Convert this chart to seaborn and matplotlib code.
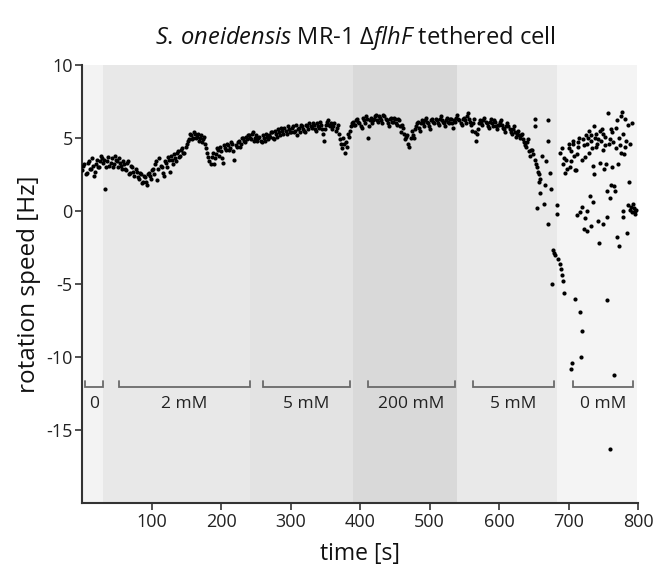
import numpy as np
import pandas as pd
import matplotlib
matplotlib.use("Agg")
import matplotlib.pyplot as plt
import seaborn as sns

# ---------------- data ----------------
# regular part of the trace, samples every 3 s (two interleaved sets, offset 1.5 s)
trace_time_a = np.arange(0, 660, 3)
trace_speed_a = [
    2.8, 3.2, 2.6, 3.4, 2.9, 3.1, 2.7, 3.5, 3.0, 3.8,
    3.3, 1.5, 3.4, 3.1, 3.6, 3.2, 3.5, 3.0, 3.3, 2.9,
    3.2, 2.8, 3.4, 2.6, 3.0, 2.4, 2.7, 2.2, 2.5, 2.0,
    2.3, 1.8, 2.6, 2.2, 2.9, 3.2, 2.1, 3.6, 3.0, 2.4,
    3.3, 3.7, 2.7, 3.5, 3.9, 3.4, 4.1, 3.8, 4.3, 4.0,
    4.6, 4.9, 5.2, 5.0, 5.3, 5.1, 4.8, 5.2, 4.9, 4.6,
    4.0, 3.4, 3.7, 3.2, 3.9, 4.2, 4.4, 3.6, 4.5, 4.2,
    4.5, 4.3, 4.6, 3.5, 4.4, 4.8, 4.6, 5.0, 4.7, 4.9,
    5.2, 4.9, 5.4, 5.0, 4.8, 5.1, 4.7, 5.0, 5.3, 4.9,
    5.1, 5.4, 4.9, 5.3, 5.6, 5.2, 5.5, 5.7, 5.3, 5.6,
    5.4, 5.8, 5.5, 5.2, 5.7, 5.9, 5.6, 5.4, 5.8, 6.0,
    5.7, 5.9, 5.5, 5.8, 6.1, 5.6, 4.8, 5.9, 6.2, 5.8,
    5.6, 6.0, 5.7, 5.3, 4.6, 5.0, 4.0, 4.4, 5.1, 5.8,
    6.1, 5.9, 6.3, 6.0, 5.7, 6.2, 6.5, 5.0, 6.2, 6.0,
    6.3, 6.6, 6.1, 6.4, 6.0, 6.5, 6.2, 5.8, 6.4, 6.1,
    6.3, 5.9, 6.2, 5.4, 5.7, 4.9, 5.2, 4.4, 5.5, 5.0,
    5.8, 6.1, 5.5, 6.2, 5.8, 6.4, 6.0, 5.6, 6.3, 6.0,
    6.2, 5.9, 6.5, 6.1, 5.8, 6.4, 6.0, 6.3, 5.7, 6.1,
    6.6, 6.2, 5.9, 6.4, 6.0, 6.7, 6.1, 5.5, 6.3, 4.8,
    5.6, 6.2, 5.9, 6.4, 6.0, 5.7, 6.3, 5.8, 6.1, 5.6,
    5.9, 6.2, 5.7, 5.4, 6.0, 5.6, 5.3, 5.8, 5.1, 5.5,
    5.0, 5.3, 4.7, 4.4, 4.9, 3.8, 4.2, 3.5, 3.0, 2.5,
]
trace_time_b = np.arange(1.5, 660, 3)
trace_speed_b = [
    3.1, 2.5, 3.3, 2.9, 3.6, 2.4, 3.2, 3.0, 3.4, 3.6,
    3.5, 3.0, 3.7, 3.3, 3.0, 3.8, 3.4, 3.6, 3.1, 3.4,
    2.9, 3.3, 2.5, 3.1, 2.7, 2.9, 2.3, 2.6, 1.9, 2.4,
    2.0, 2.5, 2.4, 2.8, 2.5, 3.4, 2.9, 3.1, 2.6, 3.4,
    3.0, 3.5, 3.8, 3.2, 3.6, 4.0, 3.7, 4.2, 4.0, 4.4,
    4.8, 5.3, 4.9, 5.4, 5.0, 5.3, 5.0, 4.7, 5.1, 4.3,
    3.7, 3.2, 4.0, 3.6, 4.3, 3.8, 4.1, 3.3, 4.3, 4.6,
    4.2, 4.7, 4.1, 4.5, 4.7, 4.4, 5.0, 4.8, 5.1, 5.2,
    5.0, 5.3, 4.8, 5.2, 5.0, 4.8, 5.2, 4.8, 5.1, 5.2,
    5.4, 5.0, 5.5, 5.1, 5.4, 5.7, 5.3, 5.5, 5.8, 5.4,
    5.7, 5.4, 5.9, 5.6, 5.4, 5.8, 5.5, 5.9, 5.6, 5.8,
    6.0, 5.6, 6.0, 5.7, 5.9, 5.3, 5.6, 6.1, 5.9, 6.0,
    5.8, 5.5, 5.9, 4.9, 4.3, 4.6, 4.7, 5.3, 5.5, 6.0,
    5.9, 6.2, 6.1, 5.8, 6.4, 6.0, 6.3, 5.8, 6.4, 6.2,
    6.5, 6.2, 6.5, 6.2, 6.6, 6.3, 6.0, 6.3, 6.1, 6.4,
    6.0, 6.3, 5.8, 5.9, 5.3, 5.1, 4.6, 5.0, 5.2, 5.6,
    6.0, 5.7, 6.0, 6.0, 6.2, 6.1, 5.8, 6.2, 6.1, 6.3,
    6.0, 6.3, 6.2, 6.0, 6.2, 6.1, 6.3, 6.0, 6.2, 6.4,
    6.3, 6.0, 6.3, 6.2, 6.5, 6.3, 5.9, 6.0, 5.4, 5.3,
    6.0, 6.0, 6.2, 6.1, 5.8, 6.1, 6.0, 6.2, 5.8, 5.9,
    6.1, 5.9, 5.6, 5.8, 5.8, 5.4, 5.6, 5.4, 5.3, 5.2,
    5.2, 4.9, 4.5, 4.7, 4.1, 4.2, 3.9, 3.2, 2.7, 2.2,
]

# scattered part of the trace (t > 650 s)
scatter_time = [
    651, 652, 655, 657, 659, 662, 664, 666, 668, 670, 671, 671, 673, 675, 676,
    677, 679, 681, 683, 684, 685, 687, 689, 690, 692, 693,
    690, 692, 695, 697, 700, 702, 704, 705, 706, 708, 710, 711, 713, 715, 716,
    717, 718, 719, 720, 722, 722, 724, 725, 727, 729, 730, 731, 733, 733, 735,
    736, 737, 739, 740, 742, 743, 744, 746, 748, 749, 751, 753, 755, 756, 756,
    757, 758, 759, 760, 762, 763, 765, 766, 767, 769, 770, 771, 772, 773, 775,
    776, 777, 779, 780, 782, 784, 785, 786, 788, 790, 792, 794, 796,
    688, 694, 698, 701, 703, 707, 709, 712, 714, 719, 721, 723, 726, 728, 732,
    734, 738, 741, 745, 747, 750, 752, 754, 759, 761, 764, 768, 774, 778, 781,
    783, 787, 789, 791, 793, 795, 797, 712, 726, 735, 749, 761, 770, 778, 704,
]
scatter_speed = [
    6.3, 5.8, 0.2, 2.0, 1.2, 3.8, 0.5, 1.8, 3.4, 6.2, 4.8, -0.9, 2.6, 1.5, -5.0,
    -2.7, -2.9, -3.0, 0.4, -0.2, -3.3, -3.6, -4.0, -4.4, -4.8, -5.6,
    4.3, 3.2, 2.6, 3.5, 4.6, 3.0, 4.1, -10.4, 4.8, 3.8, -6.0, 2.8, 4.4, 5.0, -6.9,
    -0.1, -10.0, -8.2, 0.3, 4.5, -1.2, -0.5, 5.2, 0.0, 4.0, 5.5, 1.0, 4.8, -1.0, 3.1,
    5.8, 2.5, 4.4, 5.3, 4.9, -0.7, -2.2, 3.3, 5.6, 4.2, 2.9, 5.1, 1.4, -0.4, -6.1,
    6.7, 4.6, -16.3, 0.9, 3.0, 5.4, -11.2, 1.7, 1.4, 4.3, 6.2, 3.2, -2.4, 5.0, 6.5,
    4.0, 6.8, 0.0, 3.9, 4.4, -1.5, 5.9, 0.4, 0.1, 0.3, -0.1, 0.2, -0.2,
    4.0, 3.6, 2.9, 4.3, 3.4, 4.6, 2.8, 3.9, 4.7, 3.5, 4.9, 3.7, 4.6, 5.0, 5.2,
    4.3, 5.0, 4.6, 5.5, 4.8, 5.3, 4.5, 3.2, 4.9, 5.6, 4.7, 5.7, 4.5, 5.3, 6.3,
    4.8, 2.0, 4.6, 6.0, 0.5, 0.0, 0.1, -0.3, -1.4, 0.6, -0.9, 1.8, -1.8, -0.4, -10.8,
]

# concentration phases (background bands)
band_start = [0, 30, 241, 390, 540, 683]
band_end = [30, 241, 390, 540, 683, 798]
band_color = ["#f3f3f3", "#e8e8e8", "#e3e3e3", "#d9d9d9", "#e9e9e9", "#f4f4f4"]

# brackets
bracket_start = [4, 53, 260, 411, 563, 706]
bracket_end = [29, 241, 385, 537, 679, 793]
bracket_label = ["0", "2 mM", "5 mM", "200 mM", "5 mM", "0 mM"]

# ---------------- plot ----------------
sns.set_theme(style="white")
FONT = ["Open Sans", "DejaVu Sans"]
plt.rcParams["font.family"] = FONT
plt.rcParams["mathtext.fontset"] = "custom"
plt.rcParams["mathtext.rm"] = "Open Sans"
plt.rcParams["mathtext.it"] = "Open Sans:italic"

fig = plt.figure(figsize=(6.54, 5.68), dpi=100)
ax = fig.add_axes([0.126, 0.1144, 0.9755 - 0.126, 0.8856 - 0.1144])

for s, e, c in zip(band_start, band_end, band_color):
    ax.axvspan(s, e, color=c, lw=0, zorder=0)

df = pd.DataFrame({
    "time": np.concatenate([trace_time_a, trace_time_b, scatter_time]),
    "speed": np.concatenate([trace_speed_a, trace_speed_b, scatter_speed]),
})
sns.scatterplot(data=df, x="time", y="speed", ax=ax, s=9, color="black",
                linewidth=0, zorder=3)

bc = "#6a6a6a"
for s, e, lab in zip(bracket_start, bracket_end, bracket_label):
    ax.plot([s, s, e, e], [-11.65, -12.05, -12.05, -11.65], color=bc, lw=1.3,
            solid_joinstyle="miter", zorder=2)
    ax.text((s + e) / 2, -13.2, lab, ha="center", va="center", fontsize=12.5,
            color="#222222")

ax.set_xlim(0, 800)
ax.set_ylim(-20, 10)
ax.set_xticks([100, 200, 300, 400, 500, 600, 700, 800])
ax.set_yticks([10, 5, 0, -5, -10, -15])
ax.set_yticklabels(["10", "5", "0", "-5", "-10", "-15"])

for side in ["top", "right"]:
    ax.spines[side].set_visible(False)
for side in ["left", "bottom"]:
    ax.spines[side].set_color("#333333")
    ax.spines[side].set_linewidth(1.5)
ax.tick_params(axis="both", direction="out", length=5, width=1.2,
               color="#333333", labelsize=13, labelcolor="#222222", pad=2,
               left=True, bottom=True)

ax.set_xlabel("time [s]", fontsize=16.5, color="#111111", labelpad=8)
ax.set_ylabel("rotation speed [Hz]", fontsize=17.5, color="#111111", labelpad=4)

fig.text(0.543, 0.933, r"$S.\,oneidensis$ MR-1 Δ$flhF$ tethered cell",
         ha="center", va="center", fontsize=17, color="#111111")

fig.savefig("out.png", dpi=100)
